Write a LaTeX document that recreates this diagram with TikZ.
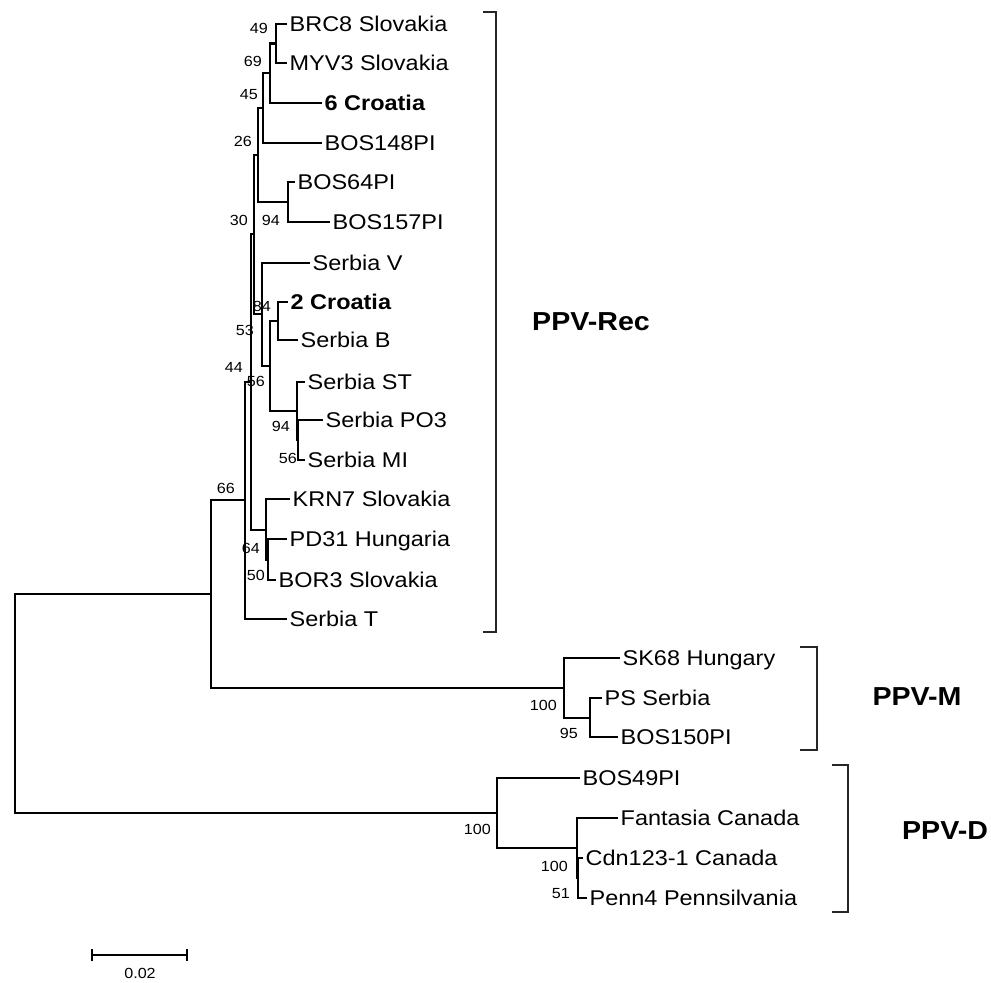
\documentclass[tikz,border=0pt]{standalone}
\usepackage{fontspec}
\setmainfont{Liberation Sans}[FakeStretch=1.1]
\usetikzlibrary{arrows.meta}

\begin{document}
\begin{tikzpicture}[
  x=0.75pt, y=-0.75pt,
  leaf/.style={font=\fontsize{16}{18}\selectfont, anchor=west,
    inner xsep=1.8pt, inner ysep=0pt, text height=11.5pt, text depth=0pt},
  boldleaf/.style={leaf, font=\fontsize{16}{18}\selectfont\bfseries},
  boot/.style={font=\fontsize{11}{12}\selectfont, anchor=east,
    inner sep=0pt, text height=7.9pt, text depth=0pt},
  group/.style={font=\fontsize{19.5}{22}\selectfont\bfseries, inner sep=0pt},
  branch/.style={line width=1.6pt, draw=black},
  bracket/.style={line width=1.2pt, draw=black!85},
]
  \useasboundingbox (0,0) rectangle (991,982);
  \fill[white] (0,0) rectangle (991,982);

  % taxa
  \node[leaf] (brc8) at (287,24) {BRC8 Slovakia};
  \node[leaf] (myv3) at (287,63) {MYV3 Slovakia};
  \node[boldleaf] (cro6) at (322,103) {6 Croatia};
  \node[leaf] (bos148) at (322,143) {BOS148PI};
  \node[leaf] (bos64) at (295,182) {BOS64PI};
  \node[leaf] (bos157) at (330,222) {BOS157PI};
  \node[leaf] (serbv) at (310,263) {Serbia V};
  \node[boldleaf] (cro2) at (288,302) {2 Croatia};
  \node[leaf] (serbb) at (298,340) {Serbia B};
  \node[leaf] (serbst) at (305,382) {Serbia ST};
  \node[leaf] (serbpo3) at (323,420) {Serbia PO3};
  \node[leaf] (serbmi) at (305,460) {Serbia MI};
  \node[leaf] (krn7) at (290,499) {KRN7 Slovakia};
  \node[leaf] (pd31) at (287,539) {PD31 Hungaria};
  \node[leaf] (bor3) at (276,580) {BOR3 Slovakia};
  \node[leaf] (serbt) at (287,619) {Serbia T};
  \node[leaf] (sk68) at (620,658) {SK68 Hungary};
  \node[leaf] (ps) at (602,698) {PS Serbia};
  \node[leaf] (bos150) at (618,737) {BOS150PI};
  \node[leaf] (bos49) at (580,778) {BOS49PI};
  \node[leaf] (fantasia) at (618,818) {Fantasia Canada};
  \node[leaf] (cdn123) at (583,858) {Cdn123-1 Canada};
  \node[leaf] (penn4) at (587,898) {Penn4 Pennsilvania};

  % internal nodes
  \coordinate (brc8-myv3) at (276,43.5);
  \coordinate (cro6-clade) at (270,73);
  \coordinate (bos148-clade) at (263,108);
  \coordinate (bos64-157) at (288,202);
  \coordinate (bos-clade) at (258,155);
  \coordinate (cro2-serbb) at (278,321);
  \coordinate (po3-mi) at (298,440);
  \coordinate (st-clade) at (297,411);
  \coordinate (serbia-clade) at (270,366);
  \coordinate (serbv-clade) at (262,314);
  \coordinate (upper-clade) at (254,234);
  \coordinate (pd31-bor3) at (268,560);
  \coordinate (krn7-clade) at (266,530);
  \coordinate (main-clade) at (251,382);
  \coordinate (rec-node) at (245,500);
  \coordinate (ps-bos150) at (590,718);
  \coordinate (m-node) at (564,688);
  \coordinate (rec-m-node) at (211,594);
  \coordinate (cdn-penn) at (578,878);
  \coordinate (fantasia-clade) at (577,848);
  \coordinate (d-node) at (497,813);
  \coordinate (root) at (15,703);

  \draw[branch] (brc8-myv3) |- (brc8) (brc8-myv3) |- (myv3);
  \draw[branch] (cro6-clade) |- (brc8-myv3) (cro6-clade) |- (cro6);
  \draw[branch] (bos148-clade) |- (cro6-clade) (bos148-clade) |- (bos148);
  \draw[branch] (bos64-157) |- (bos64) (bos64-157) |- (bos157);
  \draw[branch] (bos-clade) |- (bos148-clade) (bos-clade) |- (bos64-157);
  \draw[branch] (cro2-serbb) |- (cro2) (cro2-serbb) |- (serbb);
  \draw[branch] (po3-mi) |- (serbpo3) (po3-mi) |- (serbmi);
  \draw[branch] (st-clade) |- (serbst) (st-clade) |- (po3-mi);
  \draw[branch] (serbia-clade) |- (cro2-serbb) (serbia-clade) |- (st-clade);
  \draw[branch] (serbv-clade) |- (serbv) (serbv-clade) |- (serbia-clade);
  \draw[branch] (upper-clade) |- (bos-clade) (upper-clade) |- (serbv-clade);
  \draw[branch] (pd31-bor3) |- (pd31) (pd31-bor3) |- (bor3);
  \draw[branch] (krn7-clade) |- (krn7) (krn7-clade) |- (pd31-bor3);
  \draw[branch] (main-clade) |- (upper-clade) (main-clade) |- (krn7-clade);
  \draw[branch] (rec-node) |- (main-clade) (rec-node) |- (serbt);
  \draw[branch] (ps-bos150) |- (ps) (ps-bos150) |- (bos150);
  \draw[branch] (m-node) |- (sk68) (m-node) |- (ps-bos150);
  \draw[branch] (rec-m-node) |- (rec-node) (rec-m-node) |- (m-node);
  \draw[branch] (cdn-penn) |- (cdn123) (cdn-penn) |- (penn4);
  \draw[branch] (fantasia-clade) |- (fantasia) (fantasia-clade) |- (cdn-penn);
  \draw[branch] (d-node) |- (bos49) (d-node) |- (fantasia-clade);
  \draw[branch] (root) |- (rec-m-node) (root) |- (d-node);

  % bootstrap values
  \node[boot] (bs-brc8-myv3) at (268,28) {49};
  \node[boot] (bs-cro6-clade) at (262,61) {69};
  \node[boot] (bs-bos148-clade) at (258,94) {45};
  \node[boot] (bs-bos-clade) at (252,141) {26};
  \node[boot] (bs-upper-clade) at (248,220) {30};
  \node[boot] (bs-bos64-157) at (280,220) {94};
  \node[boot] (bs-cro2-serbb) at (271,306) {84};
  \node[boot] (bs-serbv-clade) at (254,330) {53};
  \node[boot] (bs-main-clade) at (243,367) {44};
  \node[boot] (bs-serbia-clade) at (265,381) {56};
  \node[boot] (bs-st-clade) at (290,426) {94};
  \node[boot] (bs-po3-mi) at (297,458) {56};
  \node[boot] (bs-rec-node) at (235,488) {66};
  \node[boot] (bs-krn7-clade) at (260,548) {64};
  \node[boot] (bs-pd31-bor3) at (265,575) {50};
  \node[boot] (bs-m-node) at (557,705) {100};
  \node[boot] (bs-ps-bos150) at (578,733) {95};
  \node[boot] (bs-d-node) at (491,829) {100};
  \node[boot] (bs-fantasia-clade) at (568,866) {100};
  \node[boot] (bs-cdn-penn) at (570,893) {51};

  % groups
  \draw[bracket] (483,12) -| (496,632) -- (483,632);
  \draw[bracket] (800,647) -| (817,750) -- (800,750);
  \draw[bracket] (832,765) -| (848,912) -- (832,912);
  \node[group] (ppv-rec) at (591,322) {PPV-Rec};
  \node[group] (ppv-m) at (917,697) {PPV-M};
  \node[group] (ppv-d) at (945,831) {PPV-D};

  % scale
  \draw[line width=1.3pt, {Bar[width=9pt]}-{Bar[width=9pt]}] (91,955) -- (188,955);
  \node[font=\fontsize{11}{12}\selectfont, inner sep=0pt] (scale-label)
    at (140,973) {0.02};
\end{tikzpicture}
\end{document}
